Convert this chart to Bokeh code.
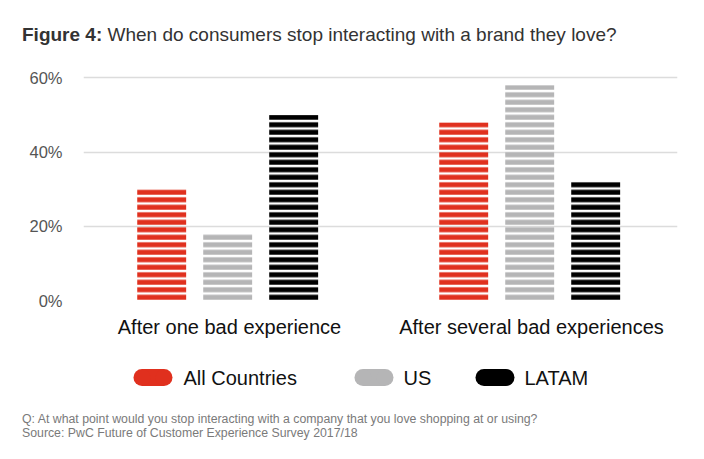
from bokeh.plotting import figure
from bokeh.models import (ColumnDataSource, FactorRange, Range1d,
                          NumeralTickFormatter, FixedTicker, Div)
from bokeh.core.properties import value
from bokeh.layouts import column
from bokeh.transform import dodge
from bokeh.embed import file_html
from bokeh.resources import INLINE

categories = ["After one bad experience", "After several bad experiences"]
series = ["All Countries", "US", "LATAM"]
all_countries = [0.30, 0.48]
us = [0.18, 0.58]
latam = [0.50, 0.32]
y_ticks = [0, 0.2, 0.4, 0.6]
title_bold = "Figure 4:"
title_rest = "When do consumers stop interacting with a brand they love?"
note_q = "Q: At what point would you stop interacting with a company that you love shopping at or using?"
note_src = "Source: PwC Future of Customer Experience Survey 2017/18"

colors = ["#E0301E", "#B5B5B6", "#000000"]
FONT = "Liberation Sans"

src = ColumnDataSource(dict(cat=categories, all=all_countries, us=us, latam=latam))

p = figure(width=704, height=285, output_backend="svg", toolbar_location=None,
           x_range=FactorRange(*categories, range_padding=-0.0166),
           y_range=Range1d(0, 0.62),
           min_border_left=83, min_border_right=27, min_border_top=10,
           min_border_bottom=45, outline_line_color=None,
           background_fill_color="white", border_fill_color="white")

offsets = [-0.2185, 0.0, 0.2185]
cols = ["all", "us", "latam"]
for col, off, c in zip(cols, offsets, colors):
    p.vbar(x=dodge("cat", off - 0.006, range=p.x_range), top=col, source=src,
           width=0.162, fill_alpha=0, line_color=None,
           hatch_pattern="horizontal_line", hatch_color=c, hatch_scale=7.5,
           hatch_weight=5)

# axes
p.yaxis.ticker = FixedTicker(ticks=y_ticks)
p.yaxis.formatter = NumeralTickFormatter(format="0%")
p.yaxis.axis_line_color = None
p.yaxis.major_tick_line_color = None
p.yaxis.minor_tick_line_color = None
p.yaxis.major_label_text_font = FONT
p.yaxis.major_label_text_font_size = "16.5px"
p.yaxis.major_label_text_color = "#555555"
p.yaxis.major_label_standoff = 15

p.xaxis.axis_line_color = None
p.xaxis.major_tick_line_color = None
p.xaxis.minor_tick_line_color = None
p.xaxis.major_label_text_font = FONT
p.xaxis.major_label_text_font_size = "20px"
p.xaxis.major_label_text_color = "#111111"
p.xaxis.major_label_standoff = 9

p.xgrid.grid_line_color = None
p.ygrid.grid_line_color = "#DCDCDC"
p.ygrid.grid_line_width = 1.5

# legend strip: a pixel-scaled strip (1 data unit = 1 px) with pill keys
LEG_W = 594
pl = figure(width=704, height=50, output_backend="svg", toolbar_location=None,
            x_range=Range1d(0, LEG_W), y_range=Range1d(0, 50),
            min_border_left=83, min_border_right=27, min_border_top=0,
            min_border_bottom=0, outline_line_color=None,
            background_fill_color="white", border_fill_color="white")
pl.axis.visible = False
pl.grid.visible = False

key_cx = [69.5, 290.5, 411.5]     # pill centres (px within strip)
key_tx = [100, 320, 441]          # label starts (px within strip)
key_y = 18
half = 11
leg = ColumnDataSource(dict(cx=key_cx, lx=[x - half for x in key_cx],
                            rx=[x + half for x in key_cx], tx=key_tx,
                            color=colors, label=series))
pl.rect(x="cx", y=key_y, width=2 * half, height=17, width_units="screen",
        height_units="screen", fill_color="color", line_color=None, source=leg)
pl.scatter(x="lx", y=key_y, size=17, marker="circle", fill_color="color",
           line_color=None, source=leg)
pl.scatter(x="rx", y=key_y, size=17, marker="circle", fill_color="color",
           line_color=None, source=leg)
pl.text(x="tx", y=key_y, text="label", text_font=value(FONT),
        text_font_size="20px", text_color="#111111", text_baseline="middle",
        source=leg)

title = Div(text=(f'<div style="font-family:\'{FONT}\';font-size:19px;color:#333333;'
                  f'padding:21px 0 0 22px;white-space:nowrap;">'
                  f'<b>{title_bold}</b> {title_rest}</div>'),
            width=704, height=60, margin=0)
foot = Div(text=(f'<div style="font-family:\'{FONT}\';font-size:12.3px;line-height:14px;'
                 f'color:#7A7A7A;padding:17px 0 0 22px;white-space:nowrap;">'
                 f'{note_q}<br>{note_src}</div>'),
           width=704, height=64, margin=0)

layout = column(title, p, pl, foot, spacing=0, margin=0)
open("out.html", "w").write(file_html(layout, INLINE))
